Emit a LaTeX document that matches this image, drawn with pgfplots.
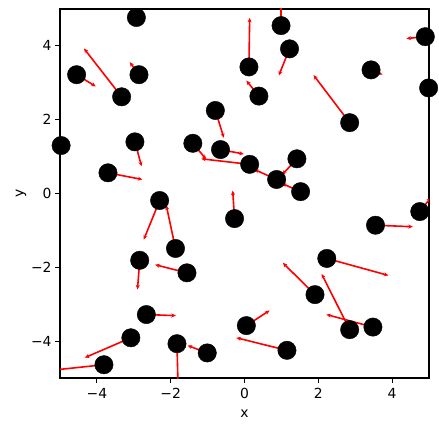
\documentclass[border=0pt]{standalone}
\usepackage{fontspec}
\setmainfont{DejaVu Sans}
\usepackage{pgfplots}
\pgfplotsset{compat=1.18}
\usepackage{pgfplotstable}
\usetikzlibrary{arrows.meta}

% x y u v (arrow from (x,y) to (x+u,y+v))
\pgfplotstableread{
x      y      u      v
-2.93  4.77   0      0
-4.55  3.22   0.52  -0.32
-3.33  2.62  -1.02   1.31
-2.86  3.22  -0.25   0.34
-4.97  1.30   0      0
-2.97  1.40   0.18  -0.66
-3.70  0.56   0.93  -0.18
-0.79  2.25   0.23  -0.74
-1.40  1.36   0.36  -0.43
-0.65  1.19   0.63  -0.12
 0.99  4.55   0      0.80
 1.22  3.92  -0.29  -0.72
 0.12  3.43   0.02   1.33
 0.39  2.64  -0.34   0.42
 3.43  3.35   0.31  -0.13
 2.85  1.92  -0.98   1.29
 4.90  4.25  -0.51  -0.05
 4.99  2.86   0      0
 0.14  0.79  -1.31   0.15
 1.42  0.94  -0.40  -0.43
 0.87  0.38  -0.60   0.27
 1.52  0.05  -0.50   0.22
-2.30 -0.19  -0.43  -1.06
-1.87 -1.49  -0.25   1.17
-2.84 -1.81  -0.06  -0.79
-1.56 -2.15  -0.86   0.22
-0.27 -0.68  -0.05   0.76
-2.66 -3.28   0.80  -0.03
-3.08 -3.91  -1.25  -0.54
-3.81 -4.64  -1.60  -0.17
-1.83 -4.07   0.03  -1.20
-1.01 -4.32  -0.53   0.20
 0.05 -3.58   0.63   0.41
 1.15 -4.25  -1.37   0.34
 3.55 -0.86   1.01  -0.04
 4.75 -0.49   0.30   0.38
 2.23 -1.76   1.67  -0.46
 1.91 -2.74  -0.87   0.86
 2.85 -3.69  -0.76   1.51
 3.48 -3.62  -1.26   0.34
}\pts

\begin{document}
\begin{tikzpicture}
\begin{axis}[
    width=369pt, height=369pt, scale only axis,
    xmin=-5, xmax=5, ymin=-5, ymax=5,
    xtick={-4,-2,0,2,4}, ytick={-4,-2,0,2,4},
    xticklabels={−4,−2,0,2,4}, yticklabels={−4,−2,0,2,4},
    xtick pos=bottom, ytick pos=left,
    tick align=outside, major tick length=4.9pt,
    every tick/.style={black, line width=1.1pt},
    axis line style={line width=1.1pt},
    font=\fontsize{13.9}{16}\selectfont,
    xticklabel style={yshift=-2pt},
    xlabel={x}, ylabel={y},
    xlabel style={yshift=-4pt},
    ylabel style={yshift=-2pt},
]
\addplot[red, line width=1.6pt,
    quiver={u=\thisrow{u}, v=\thisrow{v},
        every arrow/.append style={-{Stealth[length=4.5pt,width=4pt]}}}]
    table[x=x, y=y] {\pts};
\addplot[only marks, mark=*, mark size=9.2pt, black] table[x=x, y=y] {\pts};
\end{axis}
\path (current axis.south west) ++(-60pt,-54pt) coordinate (a);
\path (current axis.north east) ++(10pt,9pt) coordinate (b);
\path (a) rectangle (b);
\end{tikzpicture}
\end{document}
